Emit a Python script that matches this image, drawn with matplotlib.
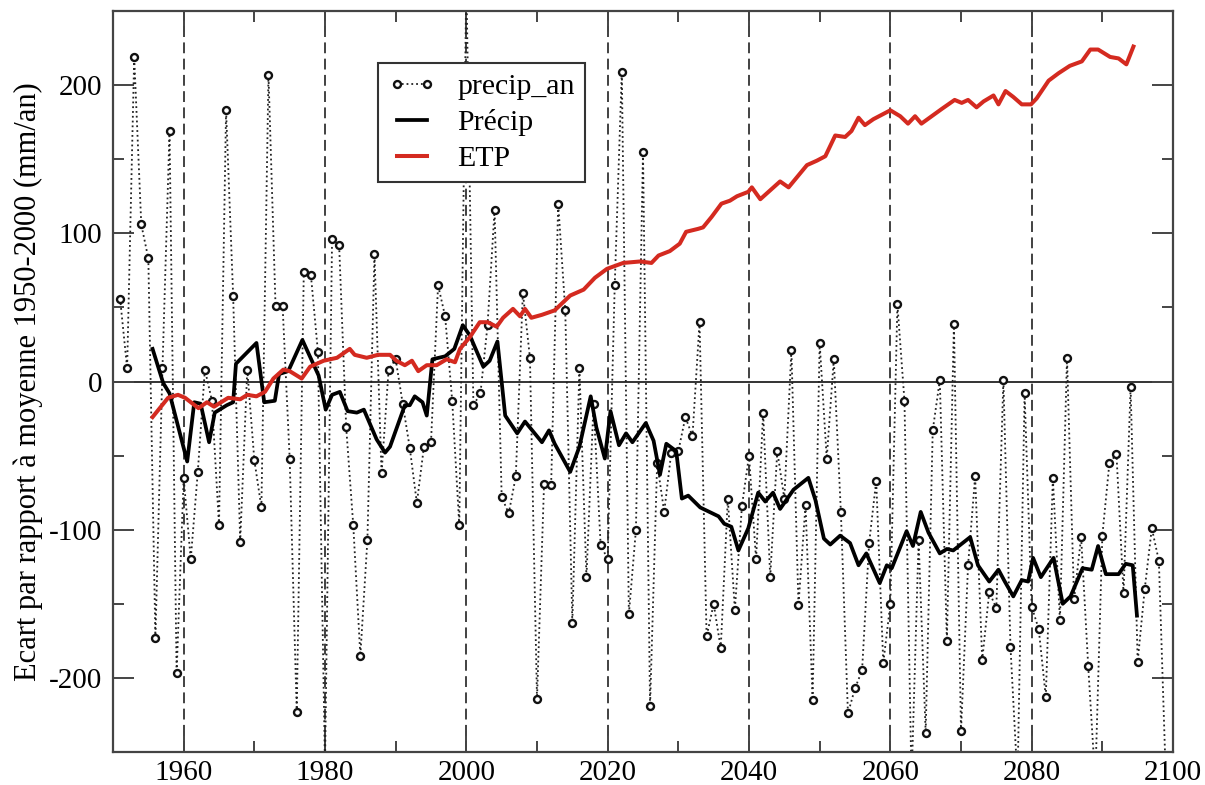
import numpy as np
import matplotlib
matplotlib.use("Agg")
from matplotlib import pyplot as plt
from matplotlib.ticker import MultipleLocator

plt.rcParams['font.family'] = ['Liberation Serif', 'DejaVu Serif']
plt.rcParams['axes.unicode_minus'] = False

# annual precipitation anomaly (mm/an), 1951-2099 (values < -250 / > 250 fall outside the frame)
annees = list(range(1951, 2100))
precip_an = [
    56, 9, 219, 106, 83, -173, 9, 169, -197, -65,
    -120, -61, 8, -13, -97, 183, 58, -108, 8, -53,
    -85, 207, 51, 51, -52, -223, 74, 72, 20, -260,
    96, 92, -31, -97, -185, -107, 86, -62, 8, 15,
    -15, -45, -82, -44, -41, 65, 44, -13, -97, 270,
    -16, -8, 38, 116, -78, -89, -64, 60, 16, -214,
    -69, -70, 120, 48, -163, 9, -132, -15, -110, -120,
    65, 209, -157, -100, 155, -219, -55, -88, -48, -47,
    -24, -37, 40, -172, -150, -180, -79, -154, -84, -50,
    -120, -21, -132, -47, -79, 21, -151, -83, -215, 26,
    -52, 15, -88, -224, -207, -195, -109, -67, -190, -150,
    52, -13, -270, -107, -237, -33, 1, -175, 39, -236,
    -124, -64, -188, -142, -153, 1, -179, -270, -8, -152,
    -167, -213, -65, -161, 16, -147, -105, -192, -270, -104,
    -55, -49, -143, -4, -189, -140, -99, -121, -270,
]

# smoothed precipitation (Précip)
precip_x = [
    1955.6, 1957.1, 1958.0, 1960.5, 1961.5, 1962.4, 1963.6, 1964.4, 1966.1, 1967.0,
    1967.4, 1970.3, 1971.4, 1972.9, 1973.5, 1974.8, 1976.8, 1979.1, 1980.1, 1981.0,
    1982.1, 1983.2, 1984.5, 1985.5, 1987.3, 1988.5, 1989.2, 1991.3, 1992.0, 1992.7,
    1993.8, 1994.4, 1995.2, 1997.0, 1998.3, 1999.5, 2000.5, 2002.4, 2003.3, 2004.4,
    2005.5, 2007.2, 2008.3, 2010.7, 2011.7, 2012.5, 2014.7, 2016.0, 2017.6, 2018.4,
    2019.6, 2020.4, 2021.6, 2022.6, 2023.5, 2025.4, 2026.5, 2027.4, 2028.3, 2029.7,
    2030.5, 2031.4, 2033.1, 2035.7, 2036.5, 2037.5, 2038.5, 2039.9, 2041.3, 2042.3,
    2043.4, 2044.4, 2046.3, 2048.4, 2049.4, 2050.6, 2051.5, 2052.9, 2054.3, 2055.5,
    2056.6, 2058.5, 2059.5, 2060.2, 2062.3, 2063.2, 2064.3, 2065.4, 2067.0, 2068.0,
    2068.9, 2071.3, 2072.4, 2074.0, 2075.3, 2076.2, 2077.4, 2078.6, 2079.5, 2080.2,
    2081.3, 2083.1, 2084.4, 2085.5, 2087.2, 2088.5, 2089.4, 2090.5, 2092.3, 2093.3,
    2094.3, 2094.9,
]
precip_y = [
    22, -1, -8, -54, -14, -15, -41, -21, -16, -14,
    12, 26, -14, -13, 5, 7, 28, 4, -19, -9,
    -7, -20, -21, -19, -39, -48, -44, -16, -16, -10,
    -14, -23, 15, 17, 22, 38, 31, 10, 14, 27,
    -23, -35, -27, -41, -33, -42, -61, -44, -10, -31,
    -52, -20, -43, -35, -41, -28, -40, -63, -42, -47,
    -79, -77, -85, -91, -96, -98, -114, -99, -75, -81,
    -75, -86, -73, -65, -80, -106, -110, -104, -109, -124,
    -116, -136, -124, -126, -101, -111, -88, -102, -116, -113,
    -114, -105, -124, -135, -127, -135, -145, -134, -135, -119,
    -132, -119, -150, -145, -126, -127, -111, -130, -130, -123,
    -124, -158,
]

# potential evapotranspiration (ETP)
etp_x = [
    1955.6, 1957.8, 1959.2, 1960.2, 1962.1, 1963.3, 1964.3, 1966.3, 1968.0, 1969.0,
    1970.3, 1971.5, 1972.7, 1974.1, 1975.0, 1976.7, 1977.9, 1979.8, 1981.7, 1983.5,
    1984.2, 1985.9, 1987.5, 1989.2, 1990.1, 1991.3, 1992.3, 1993.2, 1994.4, 1995.8,
    1997.2, 1998.4, 1999.1, 2000.5, 2001.9, 2003.0, 2004.3, 2005.2, 2006.6, 2007.6,
    2008.3, 2009.2, 2010.7, 2012.5, 2014.7, 2016.6, 2018.2, 2019.9, 2022.2, 2024.6,
    2026.2, 2027.2, 2028.8, 2030.2, 2031.1, 2032.8, 2033.5, 2034.7, 2036.1, 2037.3,
    2038.3, 2039.9, 2040.4, 2041.6, 2044.4, 2045.6, 2048.2, 2049.6, 2050.8, 2052.2,
    2053.6, 2054.5, 2055.5, 2056.4, 2057.6, 2060.0, 2061.4, 2062.5, 2063.5, 2064.4,
    2067.3, 2069.1, 2070.1, 2071.0, 2072.2, 2073.2, 2074.6, 2075.3, 2076.3, 2077.4,
    2078.6, 2079.9, 2080.7, 2082.4, 2083.8, 2085.4, 2087.1, 2088.3, 2089.4, 2091.1,
    2092.3, 2093.4, 2094.4,
]
etp_y = [
    -24, -11, -9, -11, -18, -14, -17, -11, -12, -9,
    -10, -7, 2, 8, 7, 2, 10, 14, 16, 22,
    18, 16, 18, 18, 14, 11, 14, 7, 11, 11,
    15, 13, 22, 30, 40, 40, 37, 43, 49, 44,
    49, 43, 45, 48, 58, 62, 70, 76, 80, 81,
    80, 85, 88, 93, 101, 103, 104, 111, 120, 122,
    125, 128, 131, 123, 135, 131, 146, 149, 152, 166,
    165, 169, 178, 173, 177, 183, 179, 174, 179, 174,
    184, 190, 188, 190, 185, 189, 193, 187, 196, 192,
    187, 187, 191, 203, 208, 213, 216, 224, 224, 219,
    218, 214, 226,
]

annees_ref = [1960, 1980, 2000, 2020, 2040, 2060, 2080]

fig = plt.figure(figsize=(12.05, 7.85), dpi=100)
ax = fig.add_axes([113 / 1205, 1 - 752 / 785, 1060 / 1205, 741 / 785])

for a in annees_ref:
    ax.axvline(a, color='#333333', lw=1.3, ls=(0, (6, 3)), zorder=1)
ax.axhline(0, color='#333333', lw=1.4, zorder=1)

ax.plot(annees, precip_an, color='#222222', lw=1.3, ls=':', marker='o', ms=5,
        mfc='white', mec='#111111', mew=1.7, label='precip_an', zorder=2)
ax.plot(precip_x, precip_y, color='black', lw=2.7, label='Précip', zorder=3)
ax.plot(etp_x, etp_y, color='#d42a20', lw=2.9, label='ETP', zorder=3)

ax.set_xlim(1950, 2100)
ax.set_ylim(-250, 250)
ax.xaxis.set_major_locator(MultipleLocator(20))
ax.xaxis.set_minor_locator(MultipleLocator(10))
ax.yaxis.set_major_locator(MultipleLocator(100))
ax.yaxis.set_minor_locator(MultipleLocator(50))
ax.set_xticks([1960, 1980, 2000, 2020, 2040, 2060, 2080, 2100])
ax.tick_params(which='both', direction='in', top=True, right=True,
               color='#444444', labelsize=21)
ax.tick_params(which='major', length=15, width=1.4)
ax.tick_params(which='minor', length=8, width=1.4)
ax.tick_params(axis='x', pad=6)
ax.tick_params(axis='y', pad=8)
for s in ax.spines.values():
    s.set_color('#444444')
    s.set_linewidth(1.6)

ax.set_ylabel('Ecart par rapport à moyenne 1950-2000 (mm/an)', fontsize=22, labelpad=4)

leg = ax.legend(loc='upper left', bbox_to_anchor=(0.25, 0.93), borderaxespad=0,
                fontsize=21.5, numpoints=2, handlelength=1.6, handletextpad=0.7,
                labelspacing=0.3, borderpad=0.35, fancybox=False, framealpha=1)
leg.get_frame().set_edgecolor('#333333')
leg.get_frame().set_linewidth(1.5)

fig.savefig('out.png', dpi=100)
